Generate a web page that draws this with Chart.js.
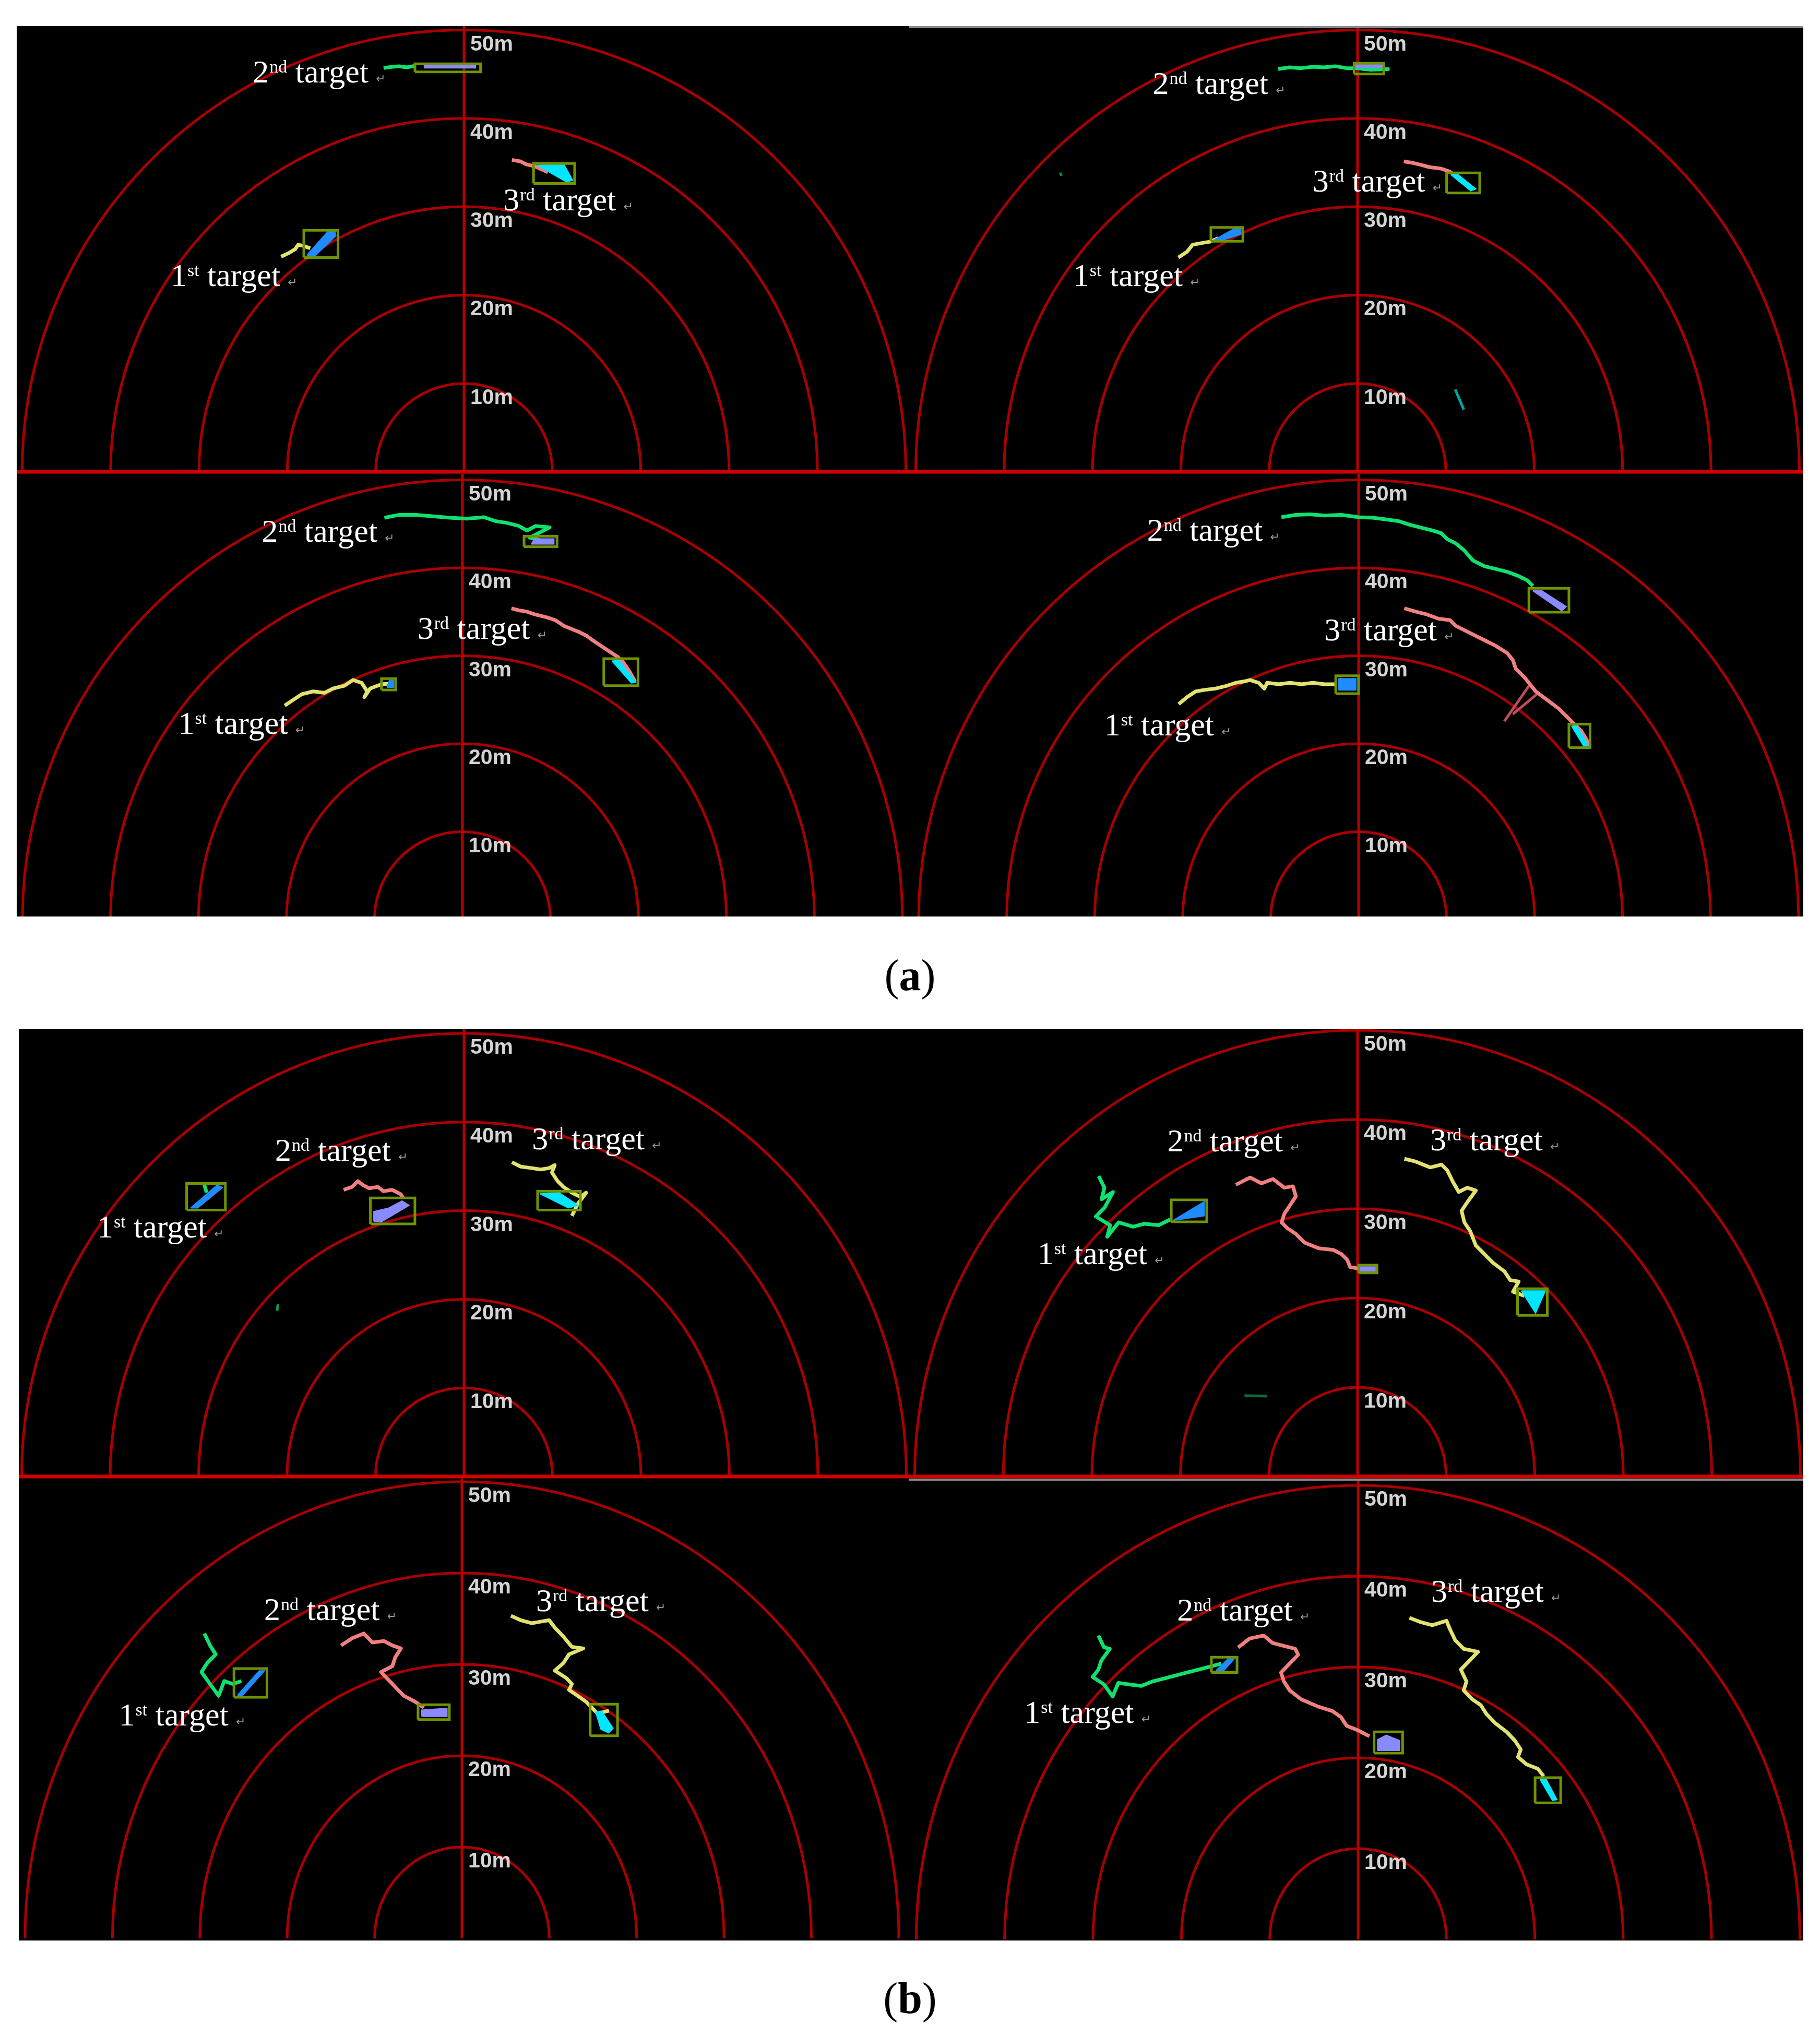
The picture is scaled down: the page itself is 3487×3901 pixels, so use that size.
<!DOCTYPE html>
<html>
<head>
<meta charset="utf-8">
<script src="https://cdn.jsdelivr.net/npm/chart.js@4.4.1/dist/chart.umd.min.js"></script>
<style>
  body { margin: 0; background: #fff; }
  #fig { position: relative; width: 3487px; height: 3901px; }
  canvas { position: absolute; }
  .cap { position: absolute; left: 0; width: 3487px; text-align: center; height: 100px; line-height: 100px;
         font-family: "Liberation Serif", "Times New Roman", serif; font-size: 84px; color: #000; }
  .cap b { font-weight: bold; }
</style>
</head>
<body>
<div id="fig">
  <div class="cap" style="top:1819px">(<b>a</b>)</div>
  <div class="cap" style="top:3779px">(<b>b</b>)</div>
</div>
<script>
// range rings (m) and their labels
const rings = [10, 20, 30, 40, 50];
const ringLabels = ['10m', '20m', '30m', '40m', '50m'];
const targetNums = ['1', '2', '3'];
const targetSups = ['st', 'nd', 'rd'];

// ---- (a) top left ----
const a1Tracks = [
  [[-20.7,24.35],[-19.87,24.74],[-19.1,25.2],[-18.77,25.7],[-18.1,25.55],[-17.4,25.3]],
  [[-9.1,45.7],[-8.13,45.84],[-7.35,45.9],[-6.5,45.78],[-5.55,45.94]],
  [[5.42,35.3],[6.39,35.13],[7.03,34.8],[8.0,34.58],[9.5,33.9]]
];
const a1Boxes = [[-18.13,24.25,-14.26,27.34],[-5.55,45.26,1.87,46.17],[7.87,32.63,12.52,34.9]];
const a1Blobs = [
  [[-17.8,24.5],[-16.9,24.4],[-14.5,26.7],[-14.6,27.2],[-15.4,27.2]],
  [[-4.5,45.7],[1.3,45.7],[1.3,46.05],[-4.5,46.05]],
  [[8.3,34.7],[11.3,34.8],[12.3,33.0],[11.6,32.8]]
];
const a1Labels = [[-33.2,21.0],[-23.9,44.06],[4.45,29.6]];

// ---- (a) top right ----
const a2Tracks = [
  [[-20.28,24.25],[-19.3,24.9],[-18.67,25.7],[-17.7,25.88],[-16.73,26.04],[-15.76,26.43]],
  [[-8.98,45.58],[-7.69,45.78],[-6.4,45.68],[-5.1,45.84],[-3.81,45.78],[-2.52,45.9],[-1.23,45.68],[-0.26,45.68],[1.5,45.5],[3.62,45.58]],
  [[5.23,35.13],[6.2,34.97],[7.17,34.74],[8.14,34.48],[9.43,34.32],[10.4,33.99],[12.0,32.8]]
];
const a2Boxes = [[-16.6,26.1,-12.98,27.66],[-0.39,45.03,2.97,46.23],[10.08,31.56,13.82,33.83]];
const a2Blobs = [
  [[-16.3,26.2],[-14.0,27.5],[-13.2,27.5],[-13.2,26.9],[-15.3,26.2]],
  [[-0.2,45.75],[2.8,45.75],[2.8,46.1],[-0.2,46.1]],
  [[10.6,33.6],[11.3,33.7],[13.4,32.0],[12.8,31.8]]
];
const a2Labels = [[-32.2,21.0],[-23.19,42.76],[-5.1,31.7]];
const a2Extras = [[[-33.66,33.85],[-33.5,33.5]], [[11.05,9.32],[12.02,7.05]]];

// ---- (a) bottom left ----
const a3Tracks = [
  [[-20.2,24.34],[-19.24,24.98],[-18.26,25.63],[-16.97,25.95],[-15.67,25.79],[-14.7,26.28],[-13.41,26.6],[-12.44,27.25],[-11.46,26.93],[-10.82,25.95],[-11.14,25.31],[-10.49,26.28],[-9.2,26.76],[-7.9,26.86]],
  [[-8.87,45.7],[-7.25,46.02],[-5.31,46.02],[-3.37,45.86],[-1.42,45.7],[0.52,45.6],[2.46,45.76],[3.76,45.31],[5.05,45.11],[6.35,44.79],[7.32,44.24],[8.29,44.76],[9.91,44.6],[8.61,43.92],[7.64,43.43],[8.94,43.11]],
  [[5.57,35.4],[6.35,35.18],[7.32,35.02],[8.29,34.69],[9.59,34.37],[10.56,34.05],[11.53,33.4],[13.15,32.75],[14.12,32.27],[14.77,31.78],[15.74,31.13],[16.71,30.49],[17.68,29.84],[18.33,29.19],[18.98,28.22],[19.62,27.09]]
];
const a3Boxes = [[-9.2,26.12,-7.58,27.41],[7.0,42.4,10.75,43.59],[16.06,26.6,19.95,29.68]];
const a3Blobs = [
  [[-8.6,26.4],[-7.8,26.4],[-7.8,27.2],[-8.3,27.2]],
  [[7.8,42.7],[10.4,42.7],[10.4,43.3],[8.2,43.3]],
  [[17.0,29.4],[17.8,29.5],[19.7,27.0],[19.2,26.9]]
];
const a3Labels = [[-32.3,21.1],[-22.8,42.95],[-5.12,31.94]];

// ---- (a) bottom right ----
const a4Tracks = [
  [[-20.45,24.5],[-19.48,25.31],[-18.51,25.95],[-17.53,26.12],[-16.23,26.28],[-14.94,26.6],[-13.96,26.93],[-12.99,27.09],[-12.34,27.25],[-11.36,26.93],[-10.71,26.28],[-10.39,26.93],[-9.09,26.76],[-7.79,26.93],[-6.49,26.76],[-5.19,26.93],[-3.9,26.76],[-2.6,26.76]],
  [[-8.77,45.76],[-7.14,46.02],[-5.52,46.08],[-3.9,45.95],[-1.95,46.02],[0,45.76],[1.62,45.7],[2.92,45.53],[4.55,45.31],[5.84,44.89],[7.14,44.56],[8.44,44.24],[9.42,43.92],[10.06,43.27],[11.04,42.78],[12.01,41.97],[12.99,40.84],[14.29,40.19],[15.58,39.87],[16.88,39.55],[18.18,39.06],[19.16,38.58],[19.81,37.93]],
  [[5.19,35.4],[6.49,35.02],[7.79,34.69],[9.09,34.21],[10.39,34.05],[11.04,33.4],[12.34,32.75],[13.64,32.1],[14.29,31.78],[15.58,31.13],[16.88,30.32],[17.53,29.51],[17.86,28.54],[18.83,27.57],[19.48,26.76],[20.13,25.95],[21.43,24.98],[22.73,24.01],[23.7,23.04],[24.35,22.39],[25.32,21.42],[26.3,19.81]]
];
const a4Boxes = [[-2.6,25.7,0,27.73],[19.35,34.95,23.9,37.67],[23.9,19.55,26.3,22.23]];
const a4Blobs = [
  [[-2.3,26.1],[-0.3,26.1],[-0.3,27.4],[-2.3,27.4]],
  [[19.8,37.4],[20.8,37.4],[23.6,35.6],[23.1,35.1]],
  [[24.2,22.0],[24.8,22.0],[26.1,19.8],[25.6,19.7]]
];
const a4Labels = [[-28.9,20.94],[-24.03,43.1],[-3.9,31.78]];
const a4Extras = [[[19.48,26.76],[16.56,22.56]], [[20.45,25.79],[17.53,23.37]]];

// ---- (b) top left ----
const b1Tracks = [
  [[-29.42,33.17],[-29.1,32.03]],
  [[-13.61,32.35],[-12.65,32.68],[-12.0,33.33],[-11.35,32.84],[-10.71,32.52],[-9.74,32.68],[-9.1,32.19],[-8.13,32.35],[-7.16,31.86],[-6.84,31.37]],
  [[5.42,35.46],[6.39,34.97],[7.68,34.8],[8.65,34.64],[9.61,34.8],[10.26,35.13],[9.94,34.31],[10.58,33.33],[11.23,32.68],[12.19,32.03],[13.16,31.54],[13.81,32.03],[12.84,30.72],[12.19,29.41]]
];
const b1Boxes = [[-31.35,30.07,-26.97,33.07],[-10.58,28.5,-5.55,31.44],[8.32,30.07,13.16,32.19]];
const b1Blobs = [
  [[-30.9,30.3],[-30.1,30.3],[-27.3,32.6],[-27.9,32.9]],
  [[-10.2,28.8],[-9.4,28.7],[-6.2,30.6],[-7.0,31.1],[-8.5,30.3],[-10.2,29.9]],
  [[8.6,31.9],[10.8,32.0],[12.9,30.6],[11.8,30.3]]
];
const b1Labels = [[-41.48,26.96],[-21.35,35.62],[7.68,36.93]];
const b1Extras = [[[-21.03,19.44],[-21.13,18.69]]];

// ---- (b) top right ----
const b2Tracks = [
  [[-29.23,33.66],[-28.58,32.36],[-28.9,31.07],[-27.61,31.88],[-28.58,30.1],[-29.55,29.13],[-27.94,28.16],[-28.26,26.86],[-26.97,28.48],[-25.35,27.99],[-24.06,28.32],[-22.45,28.16],[-21.16,28.8]],
  [[-13.74,32.69],[-12.13,33.5],[-10.84,32.85],[-9.55,33.33],[-8.26,32.36],[-7.29,32.52],[-6.97,31.39],[-7.61,30.42],[-8.26,29.45],[-8.58,28.48],[-7.94,27.83],[-6.97,27.18],[-6.0,26.21],[-4.39,25.57],[-2.77,25.4],[-1.81,24.92],[-1.16,24.27],[-0.84,23.46],[0.13,23.3]],
  [[5.29,35.6],[6.58,35.28],[8.19,34.63],[9.48,34.95],[10.13,34.3],[10.77,33.01],[11.42,31.88],[12.39,32.36],[13.35,32.04],[12.39,30.74],[11.74,29.77],[12.06,28.48],[12.71,27.51],[13.35,25.89],[14.32,24.92],[15.29,23.95],[16.58,22.98],[17.23,22.01],[18.19,21.84],[17.55,20.71],[18.84,20.23]]
];
const b2Boxes = [[-21.03,28.54,-17.03,31.0],[0.13,22.82,2.19,23.69],[18.06,18.06,21.42,21.04]];
const b2Blobs = [
  [[-20.8,28.7],[-17.3,30.8],[-17.3,29.2]],
  [[0.3,23.0],[2.0,23.0],[2.0,23.5],[0.3,23.5]],
  [[18.5,20.8],[21.2,20.8],[20.1,18.3]]
];
const b2Labels = [[-36.13,23.79],[-21.48,36.41],[8.19,36.57]];
const b2Extras = [[[-12.77,9.06],[-10.19,9.0]]];

// ---- (b) bottom left ----
const b3Tracks = [
  [[-29.48,33.38],[-28.83,32.08],[-28.18,31.1],[-29.16,30.13],[-29.81,29.16],[-28.83,27.86],[-27.85,26.56],[-27.2,28.18],[-26.22,27.86],[-25.24,28.18]],
  [[-13.83,32.08],[-12.52,32.89],[-11.22,33.38],[-10.24,32.4],[-8.94,32.56],[-7.96,32.08],[-6.98,31.75],[-7.63,30.78],[-7.96,29.81],[-9.26,29.16],[-8.61,28.51],[-7.96,27.86],[-7.31,27.21],[-6.65,26.56],[-5.35,25.91],[-4.37,25.26]],
  [[5.61,35.32],[6.72,34.84],[8.02,34.51],[9.0,34.68],[9.98,34.84],[10.63,34.03],[11.61,33.05],[12.59,31.92],[13.89,31.75],[12.26,31.1],[11.61,30.13],[10.63,29.32],[11.94,28.51],[12.59,27.86],[12.26,27.21],[13.24,26.56],[14.22,25.91],[14.87,25.26],[15.53,24.61],[16.83,24.94]]
];
const b3Boxes = [[-26.09,26.4,-22.31,29.55],[-5.02,23.96,-1.44,25.58],[14.68,22.18,17.81,25.65]];
const b3Blobs = [
  [[-25.7,26.6],[-25.1,26.6],[-22.6,29.3],[-23.2,29.3]],
  [[-4.6,24.3],[-1.7,24.3],[-1.7,25.2],[-4.6,25.0]],
  [[15.3,24.8],[16.0,24.9],[17.3,23.0],[16.8,22.5],[15.9,22.9]]
];
const b3Labels = [[-39.27,23.31],[-22.64,34.84],[8.48,35.81]];

// ---- (b) bottom right ----
const b4Tracks = [
  [[-29.39,33.46],[-28.75,32.16],[-28.1,32.0],[-29.07,30.69],[-29.39,29.71],[-30.04,28.9],[-28.75,28.08],[-27.78,26.75],[-27.13,28.25],[-25.84,28.08],[-24.55,27.92],[-23.26,28.41],[-21.96,28.73],[-20.67,29.06],[-19.38,29.39],[-18.09,29.71],[-16.8,30.04],[-15.5,30.37]],
  [[-13.57,32.16],[-12.27,33.14],[-10.66,33.46],[-9.69,32.65],[-8.4,32.32],[-7.11,32.0],[-6.78,31.34],[-7.75,30.37],[-8.72,29.39],[-8.4,28.41],[-7.75,27.43],[-6.46,26.45],[-4.52,25.64],[-2.91,25.15],[-1.94,24.49],[-1.29,23.52],[0,23.03],[1.29,22.37]],
  [[5.81,35.42],[7.11,34.93],[8.4,34.61],[10.01,35.09],[10.34,34.28],[10.98,32.97],[11.95,32.0],[13.57,31.67],[12.6,30.69],[11.63,29.71],[12.27,28.41],[11.95,27.43],[12.92,26.45],[13.89,25.8],[14.53,24.82],[15.5,23.84],[16.8,22.86],[17.76,21.88],[18.41,20.91],[18.09,20.09],[19.06,19.28],[20.35,18.79],[21.0,17.97]]
];
const b4Boxes = [[-16.6,29.39,-13.7,31.08],[1.81,20.52,5.04,22.86],[20.03,15.04,22.93,17.81]];
const b4Blobs = [
  [[-16.1,29.6],[-15.2,29.6],[-14.0,30.9],[-14.7,30.9]],
  [[2.2,20.8],[4.7,20.8],[4.7,21.9],[3.2,22.5],[2.2,22.0]],
  [[20.6,17.6],[21.3,17.6],[22.5,15.4],[22.0,15.3]]
];
const b4Labels = [[-37.79,23.84],[-20.48,35.09],[8.27,37.21]];

// colours
const GREEN = '#10e070', YELLOW = '#e2e270', PINK = '#f08080';
const paletteA = [YELLOW, GREEN, PINK];
const paletteB = [GREEN, PINK, YELLOW];
const blobColors = ['#1e8cff', '#8a8aff', '#00e6ff'];
const BOX = '#6f9300';

// panel placement on the page (px) and pixel scale (px per metre)
const panels = [
  { L: 32,   T: 50,   W: 1709, H: 858, cx: 889,  cy: 904,  sx: 16.93, sy: 16.93, base: true,
    tracks: a1Tracks, boxes: a1Boxes, blobs: a1Blobs, labels: a1Labels, extras: [], extraColors: [], palette: paletteA },
  { L: 1741, T: 50,   W: 1714, H: 858, cx: 2601, cy: 904,  sx: 16.93, sy: 16.93, base: true, topEdge: true,
    tracks: a2Tracks, boxes: a2Boxes, blobs: a2Blobs, labels: a2Labels, extras: a2Extras, extraColors: ['#0b8a45', '#00a5a5'], palette: paletteA },
  { L: 32,   T: 908,  W: 1709, H: 848, cx: 886,  cy: 1762, sx: 16.86, sy: 16.85,
    tracks: a3Tracks, boxes: a3Boxes, blobs: a3Blobs, labels: a3Labels, extras: [], extraColors: [], palette: paletteA },
  { L: 1741, T: 908,  W: 1714, H: 848, cx: 2603, cy: 1762, sx: 16.86, sy: 16.85,
    tracks: a4Tracks, boxes: a4Boxes, blobs: a4Blobs, labels: a4Labels, extras: a4Extras, extraColors: ['#c04c5c', '#c04c5c'], palette: paletteA },
  { L: 36,   T: 1972, W: 1705, H: 861, cx: 889,  cy: 2829, sx: 16.95, sy: 16.98, base: true,
    tracks: b1Tracks, boxes: b1Boxes, blobs: b1Blobs, labels: b1Labels, extras: b1Extras, extraColors: ['#0b9a48'], palette: paletteB },
  { L: 1741, T: 1972, W: 1714, H: 861, cx: 2601, cy: 2829, sx: 16.97, sy: 17.1, base: true,
    tracks: b2Tracks, boxes: b2Boxes, blobs: b2Blobs, labels: b2Labels, extras: b2Extras, extraColors: ['#0b6b3b'], palette: paletteB },
  { L: 36,   T: 2833, W: 1705, H: 885, cx: 885,  cy: 3714, sx: 16.74, sy: 17.5,
    tracks: b3Tracks, boxes: b3Boxes, blobs: b3Blobs, labels: b3Labels, extras: [], extraColors: [], palette: paletteB },
  { L: 1741, T: 2833, W: 1714, H: 885, cx: 2602, cy: 3716, sx: 16.93, sy: 17.4, topEdge: true,
    tracks: b4Tracks, boxes: b4Boxes, blobs: b4Blobs, labels: b4Labels, extras: [], extraColors: [], palette: paletteB }
];

const pts = arr => arr.map(([x, y]) => ({ x, y }));
const closed = arr => pts(arr.concat([arr[0]]));

// rings, axis and range labels
const radarGrid = {
  id: 'radarGrid',
  beforeDraw(chart) {
    const { ctx, width, height } = chart;
    ctx.save();
    ctx.fillStyle = '#000';
    ctx.fillRect(0, 0, width, height);
    ctx.restore();
  },
  beforeDatasetsDraw(chart, args, opts) {
    const { ctx, width } = chart;
    const { x, y } = chart.scales;
    const x0 = x.getPixelForValue(0), y0 = y.getPixelForValue(0);
    ctx.save();
    ctx.strokeStyle = '#a80000';
    ctx.lineWidth = 5;
    rings.forEach(r => {
      const rx = x.getPixelForValue(r) - x0;
      const ry = y0 - y.getPixelForValue(r);
      ctx.beginPath();
      ctx.ellipse(x0, y0, rx, ry, 0, Math.PI, 2 * Math.PI);
      ctx.stroke();
    });
    ctx.strokeStyle = '#b80000';
    ctx.beginPath();
    ctx.moveTo(x0, y0);
    ctx.lineTo(x0, 0);
    ctx.stroke();
    if (opts.base) {
      ctx.strokeStyle = '#d00000';
      ctx.lineWidth = 7;
      ctx.beginPath();
      ctx.moveTo(0, y0);
      ctx.lineTo(width, y0);
      ctx.stroke();
    }
    if (opts.topEdge) {
      ctx.strokeStyle = '#8c8c8c';
      ctx.lineWidth = 4;
      ctx.beginPath();
      ctx.moveTo(0, 2);
      ctx.lineTo(width, 2);
      ctx.stroke();
    }
    ctx.fillStyle = '#d4d4d4';
    ctx.font = 'bold 41px "Liberation Sans", Arial, sans-serif';
    ctx.textBaseline = 'alphabetic';
    rings.forEach((r, i) => {
      ctx.fillText(ringLabels[i], x0 + 12, y.getPixelForValue(r) + 39);
    });
    ctx.restore();
  },
  afterDatasetsDraw(chart, args, opts) {
    const { ctx } = chart;
    const { x, y } = chart.scales;
    ctx.save();
    ctx.textBaseline = 'alphabetic';
    (opts.labels || []).forEach(([lx, ly], i) => {
      let px = x.getPixelForValue(lx);
      const py = y.getPixelForValue(ly);
      ctx.fillStyle = '#fff';
      ctx.font = '62px "Liberation Serif", serif';
      ctx.fillText(targetNums[i], px, py);
      px += ctx.measureText(targetNums[i]).width + 1;
      ctx.font = '34px "Liberation Serif", serif';
      ctx.fillText(targetSups[i], px, py - 19);
      px += ctx.measureText(targetSups[i]).width;
      ctx.font = '62px "Liberation Serif", serif';
      ctx.fillText(' target', px, py);
      px += ctx.measureText(' target').width + 14;
      ctx.fillStyle = '#9a9a9a';
      ctx.font = '22px "DejaVu Sans", sans-serif';
      ctx.fillText('\u21b5', px, py);
    });
    ctx.restore();
  }
};

const fig = document.getElementById('fig');
panels.forEach(p => {
  const cv = document.createElement('canvas');
  cv.width = p.W;
  cv.height = p.H;
  cv.style.left = p.L + 'px';
  cv.style.top = p.T + 'px';
  fig.appendChild(cv);

  const datasets = [];
  p.extras.forEach((e, i) => datasets.push({
    data: pts(e), showLine: true, borderColor: p.extraColors[i], borderWidth: 5,
    pointRadius: 0, order: 4
  }));
  p.tracks.forEach((t, i) => datasets.push({
    data: pts(t), showLine: true, borderColor: p.palette[i], borderWidth: 7,
    borderJoinStyle: 'round', pointRadius: 0, order: 3
  }));
  p.blobs.forEach((b, i) => datasets.push({
    data: closed(b), showLine: true, borderColor: blobColors[i], backgroundColor: blobColors[i],
    borderWidth: 2, fill: 'shape', pointRadius: 0, order: 2
  }));
  p.boxes.forEach(([x0, y0, x1, y1]) => datasets.push({
    data: closed([[x0, y0], [x1, y0], [x1, y1], [x0, y1]]), showLine: true,
    borderColor: BOX, borderWidth: 5, pointRadius: 0, order: 1
  }));

  new Chart(cv, {
    type: 'scatter',
    data: { datasets },
    options: {
      responsive: false,
      animation: false,
      devicePixelRatio: 1,
      layout: { padding: 0 },
      scales: {
        x: { type: 'linear', display: false, min: (p.L - p.cx) / p.sx, max: (p.L + p.W - p.cx) / p.sx },
        y: { type: 'linear', display: false, min: (p.cy - p.T - p.H) / p.sy, max: (p.cy - p.T) / p.sy }
      },
      plugins: {
        legend: { display: false },
        tooltip: { enabled: false },
        radarGrid: { base: !!p.base, topEdge: !!p.topEdge, labels: p.labels }
      }
    },
    plugins: [radarGrid]
  });
});
</script>
</body>
</html>
